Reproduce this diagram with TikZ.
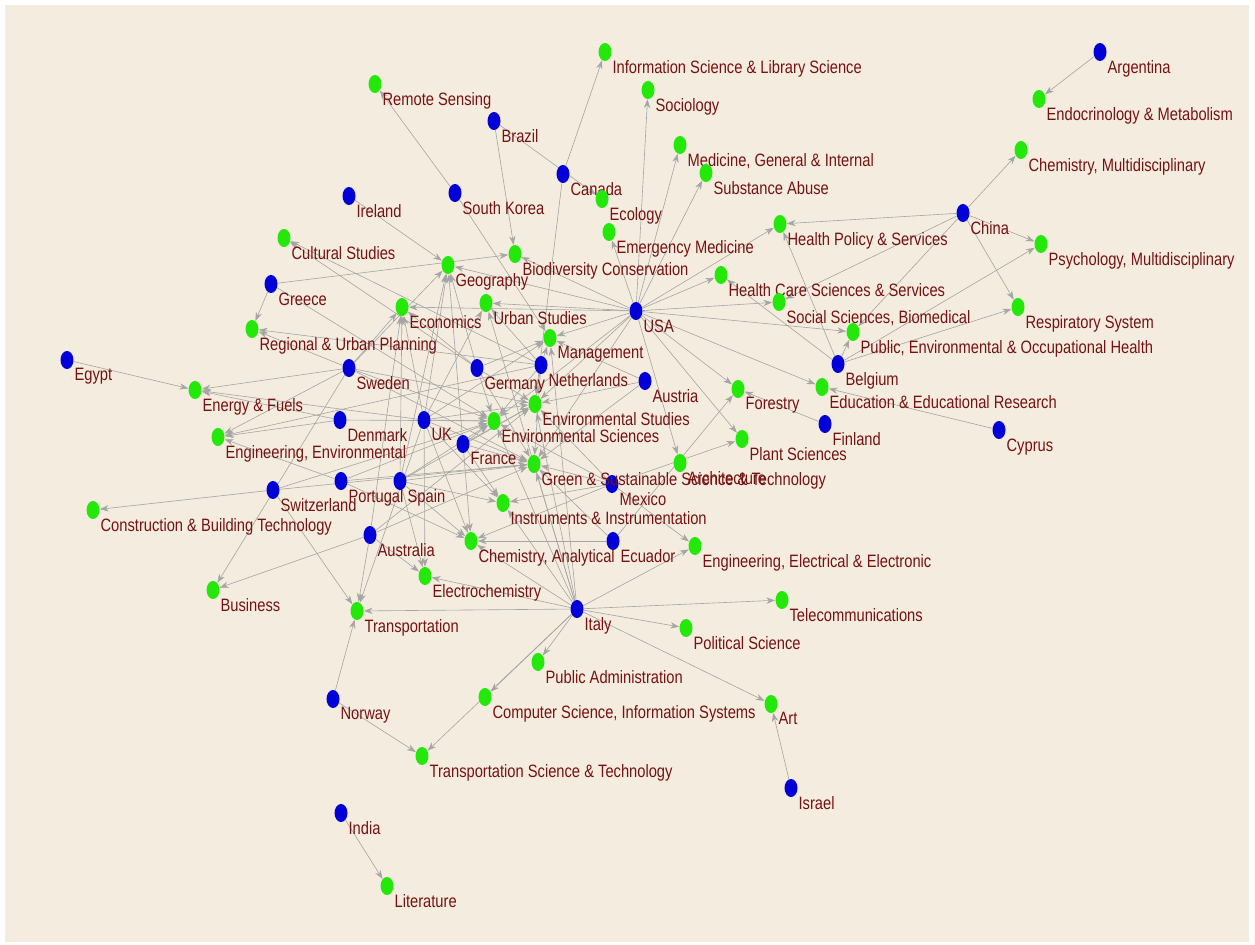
\documentclass[tikz,border=0pt]{standalone}
\usepackage{fontspec}
\setmainfont{Liberation Sans}[FakeStretch=0.82]
\usetikzlibrary{shapes.geometric,arrows.meta,backgrounds}
\definecolor{cblue}{RGB}{0,0,215}
\definecolor{fgreen}{RGB}{35,232,10}
\definecolor{lblred}{RGB}{118,18,18}
\definecolor{paper}{RGB}{244,237,223}
\definecolor{edgegray}{RGB}{165,165,165}
\tikzset{
  dot/.style={ellipse,inner sep=0pt,minimum width=0.26cm,minimum height=0.36cm},
  country/.style={dot,fill=cblue},
  field/.style={dot,fill=fgreen},
  lbl/.style={text=lblred,inner sep=0pt,label distance=0pt,
    font=\fontsize{10.2}{12}\selectfont,xshift=0.035cm,yshift=-0.055cm},
  edge/.style={draw=edgegray,line width=0.35pt,-{Stealth[length=5pt,width=3.6pt]}},
}
\begin{document}
\begin{tikzpicture}[x=0.02cm,y=-0.02cm]
% countries
\node[country,label={[lbl]below right:Argentina}] (arg) at (1100,52) {};
\node[country,label={[lbl]below right:Brazil}] (bra) at (494,121) {};
\node[country,label={[lbl]below right:Canada}] (can) at (563,174) {};
\node[country,label={[lbl]below right:South Korea}] (skr) at (455,193) {};
\node[country,label={[lbl]below right:Ireland}] (irl) at (349,196) {};
\node[country,label={[lbl]below right:China}] (chn) at (963,213) {};
\node[country,label={[lbl]below right:Greece}] (gre) at (271,284) {};
\node[country,label={[lbl]below right:USA}] (usa) at (636,311) {};
\node[country,label={[lbl]below right:Egypt}] (egy) at (67,360) {};
\node[country,label={[lbl]below right:Belgium}] (bel) at (838,364) {};
\node[country,label={[lbl]below right:Sweden}] (swe) at (349,368) {};
\node[country,label={[lbl]below right:Germany}] (ger) at (477,368) {};
\node[country,label={[lbl]below right:Netherlands}] (ned) at (541,365) {};
\node[country,label={[lbl]below right:Austria}] (aut) at (645,381) {};
\node[country,label={[lbl]below right:Denmark}] (den) at (340,420) {};
\node[country,label={[lbl]below right:UK}] (uk) at (424,420) {};
\node[country,label={[lbl]below right:Finland}] (fin) at (825,424) {};
\node[country,label={[lbl]below right:Cyprus}] (cyp) at (999,430) {};
\node[country,label={[lbl]below right:France}] (fra) at (463,444) {};
\node[country,label={[lbl]below right:Portugal}] (por) at (341,481) {};
\node[country,label={[lbl]below right:Spain}] (spa) at (400,481) {};
\node[country,label={[lbl]below right:Mexico}] (mex) at (612,484) {};
\node[country,label={[lbl]below right:Switzerland}] (swi) at (273,490) {};
\node[country,label={[lbl]below right:Australia}] (aus) at (370,535) {};
\node[country,label={[lbl]below right:Ecuador}] (ecu) at (613,541) {};
\node[country,label={[lbl]below right:Italy}] (ita) at (577,609) {};
\node[country,label={[lbl]below right:Norway}] (nor) at (333,699) {};
\node[country,label={[lbl]below right:Israel}] (isr) at (791,788) {};
\node[country,label={[lbl]below right:India}] (ind) at (341,813) {};
% subject categories
\node[field,label={[lbl]below right:Information Science \& Library Science}] (info) at (605,52) {};
\node[field,label={[lbl]below right:Remote Sensing}] (rems) at (375,84) {};
\node[field,label={[lbl]below right:Sociology}] (soci) at (648,90) {};
\node[field,label={[lbl]below right:Endocrinology \& Metabolism}] (endo) at (1039,99) {};
\node[field,label={[lbl]below right:{Medicine, General \& Internal}}] (medi) at (680,145) {};
\node[field,label={[lbl]below right:{Chemistry, Multidisciplinary}}] (chmu) at (1021,150) {};
\node[field,label={[lbl]below right:Substance Abuse}] (subs) at (706,173) {};
\node[field,label={[lbl]below right:Ecology}] (ecol) at (602,199) {};
\node[field,label={[lbl]below right:Health Policy \& Services}] (hpol) at (780,224) {};
\node[field,label={[lbl]below right:Emergency Medicine}] (emer) at (609,232) {};
\node[field,label={[lbl]below right:Cultural Studies}] (cult) at (284,238) {};
\node[field,label={[lbl]below right:Biodiversity Conservation}] (biod) at (515,254) {};
\node[field,label={[lbl]below right:{Psychology, Multidisciplinary}}] (psyc) at (1041,244) {};
\node[field,label={[lbl]below right:Geography}] (geog) at (448,265) {};
\node[field,label={[lbl]below right:Health Care Sciences \& Services}] (hcar) at (721,275) {};
\node[field,label={[lbl]below right:Urban Studies}] (urba) at (486,303) {};
\node[field,label={[lbl]below right:Economics}] (econ) at (402,307) {};
\node[field,label={[lbl]below right:{Social Sciences, Biomedical}}] (ssbi) at (779,302) {};
\node[field,label={[lbl]below right:Respiratory System}] (resp) at (1018,307) {};
\node[field,label={[lbl]below right:{Public, Environmental \& Occupational Health}}] (publ) at (853,332) {};
\node[field,label={[lbl]below right:Regional \& Urban Planning}] (regi) at (252,329) {};
\node[field,label={[lbl]below right:Management}] (mana) at (550,338) {};
\node[field,label={[lbl]below right:Education \& Educational Research}] (educ) at (822,387) {};
\node[field,label={[lbl]below right:Energy \& Fuels}] (ener) at (195,390) {};
\node[field,label={[lbl]below right:Forestry}] (fore) at (738,389) {};
\node[field,label={[lbl]below right:Environmental Studies}] (envs) at (535,404) {};
\node[field,label={[lbl]below right:Environmental Sciences}] (envc) at (494,421) {};
\node[field,label={[lbl]below right:{Engineering, Environmental}}] (enge) at (218,437) {};
\node[field,label={[lbl]below right:Plant Sciences}] (plan) at (742,439) {};
\node[field,label={[lbl]below right:Green \& Sustainable Science \& Technology}] (gree) at (534,464) {};
\node[field,label={[lbl]below right:Architecture}] (arch) at (680,463) {};
\node[field,label={[lbl]below right:Construction \& Building Technology}] (cons) at (93,510) {};
\node[field,label={[lbl]below right:Instruments \& Instrumentation}] (inst) at (503,503) {};
\node[field,label={[lbl]below right:{Chemistry, Analytical}}] (chan) at (471,541) {};
\node[field,label={[lbl]below right:{Engineering, Electrical \& Electronic}}] (engl) at (695,546) {};
\node[field,label={[lbl]below right:Electrochemistry}] (elec) at (425,576) {};
\node[field,label={[lbl]below right:Business}] (busi) at (213,590) {};
\node[field,label={[lbl]below right:Telecommunications}] (tele) at (782,600) {};
\node[field,label={[lbl]below right:Transportation}] (tran) at (357,611) {};
\node[field,label={[lbl]below right:Political Science}] (poli) at (686,628) {};
\node[field,label={[lbl]below right:Public Administration}] (padm) at (538,662) {};
\node[field,label={[lbl]below right:{Computer Science, Information Systems}}] (comp) at (485,697) {};
\node[field,label={[lbl]below right:Art}] (art) at (771,704) {};
\node[field,label={[lbl]below right:Transportation Science \& Technology}] (trsc) at (422,756) {};
\node[field,label={[lbl]below right:Literature}] (lite) at (387,886) {};
\begin{pgfonlayer}{background}
\fill[white] (0,0) rectangle (1255,945);
\fill[paper] (5,5) rectangle (1249,942);
% links country -> category
\foreach \a/\b in {arg/endo,chn/chmu,chn/hpol,chn/psyc,chn/resp,chn/ssbi,chn/publ,
    bel/publ,bel/resp,bel/psyc,bel/hpol,bel/hcar,cyp/educ,fin/fore,
    usa/soci,usa/medi,usa/subs,usa/emer,usa/hpol,usa/hcar,usa/ssbi,usa/publ,usa/educ,
    usa/fore,usa/plan,usa/arch,usa/mana,usa/urba,usa/geog,usa/biod,usa/envs,usa/envc,
    usa/gree,usa/econ,can/info,can/envs,bra/ecol,bra/biod,skr/rems,skr/mana,irl/geog,
    gre/regi,gre/biod,gre/envc,egy/ener,
    swe/ener,swe/enge,swe/econ,swe/geog,swe/envs,swe/envc,swe/gree,swe/busi,swe/regi,
    den/envc,den/enge,den/ener,
    uk/envc,uk/envs,uk/elec,uk/ener,uk/urba,uk/geog,uk/mana,uk/chan,uk/inst,uk/gree,uk/econ,uk/tran,
    ger/envs,ger/envc,ger/cult,ger/geog,ger/econ,ger/gree,ger/mana,
    ned/cult,ned/mana,ned/urba,ned/envs,ned/envc,ned/enge,ned/gree,ned/regi,
    aut/envs,aut/mana,aut/gree,
    fra/gree,fra/envc,fra/envs,fra/chan,fra/inst,fra/geog,
    por/enge,por/gree,por/envc,por/chan,
    spa/gree,spa/envc,spa/envs,spa/chan,spa/elec,spa/inst,spa/econ,spa/geog,
    mex/gree,mex/inst,mex/chan,mex/envc,mex/plan,mex/engl,mex/envs,
    ecu/fore,ecu/chan,ecu/gree,
    swi/cons,swi/tran,swi/envc,swi/gree,
    aus/busi,aus/tran,aus/envs,aus/gree,aus/econ,aus/elec,
    ita/engl,ita/tele,ita/poli,ita/art,ita/padm,ita/comp,ita/trsc,ita/tran,ita/elec,
    ita/chan,ita/gree,ita/envc,ita/envs,ita/inst,ita/mana,ita/urba,
    nor/tran,nor/trsc,isr/art,ind/lite}
  \draw[edge] (\a) -- (\b);
\end{pgfonlayer}
\end{tikzpicture}
\end{document}
